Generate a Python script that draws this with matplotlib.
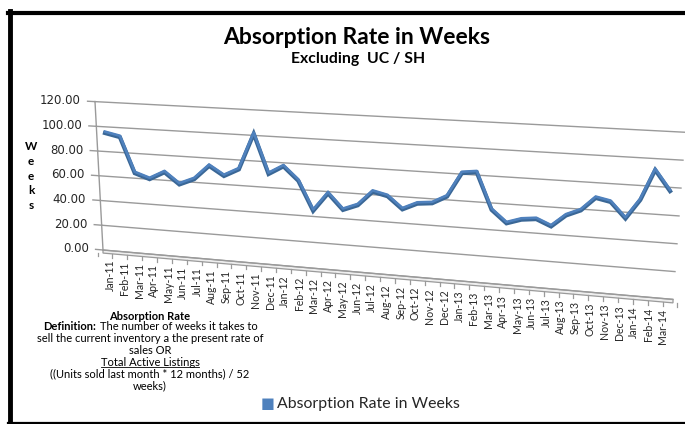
import numpy as np
import matplotlib
matplotlib.use("Agg")
import matplotlib.pyplot as plt
import matplotlib.transforms as mtransforms

# data (values against the slanted back-wall gridlines)
months = ["Jan-11", "Feb-11", "Mar-11", "Apr-11", "May-11", "Jun-11", "Jul-11",
          "Aug-11", "Sep-11", "Oct-11", "Nov-11", "Dec-11", "Jan-12", "Feb-12",
          "Mar-12", "Apr-12", "May-12", "Jun-12", "Jul-12", "Aug-12", "Sep-12",
          "Oct-12", "Nov-12", "Dec-12", "Jan-13", "Feb-13", "Mar-13", "Apr-13",
          "May-13", "Jun-13", "Jul-13", "Aug-13", "Sep-13", "Oct-13", "Nov-13",
          "Dec-13", "Jan-14", "Feb-14", "Mar-14"]
weeks = [96.1, 93.5, 65.2, 61.2, 67.5, 58.6, 63.6, 74.9, 67.7, 73.7, 102.3,
         71.6, 78.3, 67.9, 45.4, 59.7, 47.8, 52.2, 63.3, 60.7, 51.5, 56.6,
         57.7, 63.5, 81.8, 83.1, 55.9, 46.7, 50.2, 51.4, 46.8, 55.6, 60.1,
         69.9, 67.7, 56.4, 70.6, 92.8, 78.3]
y_ticks = [0, 20, 40, 60, 80, 100, 120]

W, H = 685, 424
X0, DX = 105.0, 14.87          # pixel x of first category, category step
WALL_L, WALL_R = 103.0, 680.0
FLOOR_L, FLOOR_R = 250.0, 300.0  # pixel y of value 0 at left / right
SCL_L, SCL_R = 1.233, 1.40       # pixels per unit at left / right


class WallTransform(mtransforms.Transform):
    """Fake Excel 3-D perspective: (category, value) -> figure fraction."""
    input_dims = 2
    output_dims = 2
    is_separable = False
    has_inverse = False

    def transform_non_affine(self, values):
        values = np.asarray(values, dtype=float).reshape(-1, 2)
        u, v = values[:, 0], values[:, 1]
        px = X0 + u * DX
        t = (px - WALL_L) / (WALL_R - WALL_L)
        py = FLOOR_L + (FLOOR_R - FLOOR_L) * t - v * (SCL_L + (SCL_R - SCL_L) * t)
        return np.column_stack([px / W, 1 - py / H])


def u_of(px):
    return (px - X0) / DX


plt.rcParams['font.family'] = ['Lato', 'DejaVu Sans']
fig = plt.figure(figsize=(W / 100, H / 100), dpi=100)
ax = fig.add_axes([0, 0, 1, 1])
ax.set_xlim(0, 1)
ax.set_ylim(0, 1)
ax.axis('off')
tr = WallTransform() + fig.transFigure

grid_c = '#9A9A9A'
txt_c = '#262626'

# back wall gridlines + left wall edge
for v in y_ticks:
    left = u_of(WALL_L - 8 * v / 120)
    right = u_of(673 + 12 * v / 120)
    ax.plot([left, right], [v, v], color=grid_c, lw=1.0, transform=tr, clip_on=False)
    ax.plot([left - 0.5, left], [v, v], color=grid_c, lw=1.0, transform=tr, clip_on=False)
    ax.text(left - 0.95, v, "%.2f" % v, transform=tr, ha='right', va='center',
            fontsize=8.5, family='DejaVu Sans', color=txt_c)
ax.plot([u_of(WALL_L), u_of(WALL_L - 8)], [0, 120], color=grid_c, lw=1.0,
        transform=tr, clip_on=False)

# floor
fu = [u_of(WALL_L), u_of(673), u_of(673), u_of(WALL_L)]
ax.fill(fu, [0, 0, -2.5, -2.5], facecolor='#EEEEEE', edgecolor=grid_c, lw=0.9,
        transform=tr, clip_on=False)
for i in range(len(months) + 1):
    ax.plot([i - 0.5, i - 0.5], [-2.5, -5.5], color=grid_c, lw=0.9,
            transform=tr, clip_on=False)

# category labels
for i, m in enumerate(months):
    ax.text(0.34 + 0.978 * i, -7.5, m, transform=tr, rotation=90, ha='center',
            va='top', fontsize=7.6, color=txt_c)

# the series ribbon
xs = np.arange(len(weeks))
shade = mtransforms.ScaledTranslation(0, -1.0 / 72, fig.dpi_scale_trans)
ax.plot(xs, weeks, color='#3A6796', lw=3.0, solid_joinstyle='miter',
        transform=tr + shade, clip_on=False)
ax.plot(xs, weeks, color='#4F81BD', lw=1.9, transform=tr, clip_on=False)

# titles
fig.text(357 / W, 1 - 37 / H, "Absorption Rate in Weeks", ha='center', va='center',
         fontsize=16.5, fontweight='bold', color='black')
fig.text(358 / W, 1 - 59 / H, "Excluding  UC / SH", ha='center', va='center',
         fontsize=11.3, fontweight='bold', color='black')

# axis title (stacked letters)
fig.text(31 / W, 1 - 176 / H, "W\ne\ne\nk\ns", ha='center', va='center',
         fontsize=8.5, fontweight='bold', linespacing=1.4, color='black')

# definition block
cx = 150 / W
fs = 8.0
fig.text(cx, 1 - 316 / H, "Absorption Rate", ha='center', va='center',
         fontsize=fs, fontweight='bold')
fig.text(96 / W, 1 - 327 / H, "Definition:", ha='right', va='center',
         fontsize=fs, fontweight='bold')
fig.text(100 / W, 1 - 327 / H, "The number of weeks it takes to", ha='left',
         va='center', fontsize=fs)
fig.text(cx, 1 - 339 / H, "sell the current inventory a the present rate of",
         ha='center', va='center', fontsize=fs)
fig.text(cx, 1 - 350 / H, "sales OR", ha='center', va='center', fontsize=fs)
tal = fig.text(cx, 1 - 362 / H, "Total Active Listings", ha='center', va='center',
               fontsize=fs)
fig.text(cx, 1 - 374 / H, "((Units sold last month * 12 months) / 52",
         ha='center', va='center', fontsize=fs)
fig.text(cx, 1 - 386 / H, "weeks)", ha='center', va='center', fontsize=fs)
fig.canvas.draw()
bb = tal.get_window_extent().transformed(fig.transFigure.inverted())
fig.add_artist(plt.Line2D([bb.x0, bb.x1], [bb.y0 + 0.5 / H, bb.y0 + 0.5 / H],
                          color='black', lw=0.6, transform=fig.transFigure))

# legend
fig.text(261 / W, 1 - 404 / H, "\u25A0", ha='left', va='center', fontsize=10.5,
         color='#4F81BD', family='DejaVu Sans')
fig.text(277 / W, 1 - 404 / H, "Absorption Rate in Weeks", ha='left', va='center',
         fontsize=11.4, color=txt_c)

# outer frame
fig.add_artist(plt.Line2D([9.5 / W, 9.5 / W], [1 - 11 / H, 1 - 423 / H],
                          color='black', lw=3.5, transform=fig.transFigure))
fig.add_artist(plt.Line2D([8 / W, 1.0], [1 - 13 / H, 1 - 13 / H],
                          color='black', lw=3.0, transform=fig.transFigure))
fig.add_artist(plt.Line2D([8 / W, 1.0], [1 - 422.5 / H, 1 - 422.5 / H],
                          color='black', lw=1.6, transform=fig.transFigure))

fig.savefig("out.png", dpi=100)
